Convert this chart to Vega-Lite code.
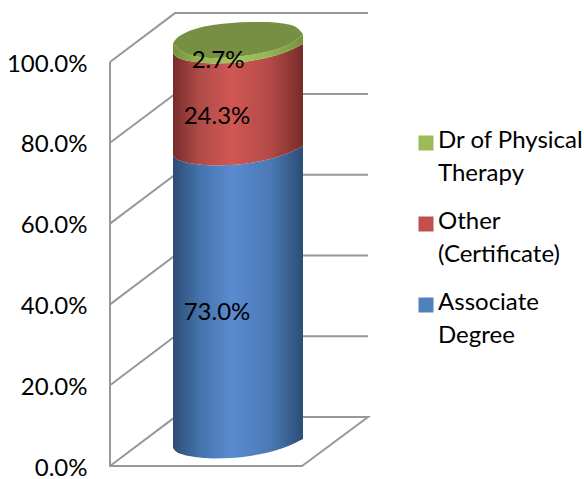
{"$schema":"https://vega.github.io/schema/vega-lite/v6.json","width":258,"height":453,"autosize":{"type":"none"},"padding":{"left":110,"top":13,"right":216,"bottom":13},"background":"white","config":{"view":{"stroke":null},"font":"Lato"},
"datasets":{
"frame":[
{"line":"f","x":110,"y":100},{"line":"f","x":110,"y":0},{"line":"f","x":302,"y":0},{"line":"f","x":368,"y":12.1},{"line":"f","x":175,"y":12.1},{"line":"f","x":110,"y":0},
{"line":"20","x":110,"y":20},{"line":"20","x":175,"y":32.1},{"line":"20","x":368,"y":32.1},
{"line":"40","x":110,"y":40},{"line":"40","x":175,"y":52.1},{"line":"40","x":368,"y":52.1},
{"line":"60","x":110,"y":60},{"line":"60","x":175,"y":72.1},{"line":"60","x":368,"y":72.1},
{"line":"80","x":110,"y":80},{"line":"80","x":175,"y":92.1},{"line":"80","x":368,"y":92.1},
{"line":"100","x":110,"y":100},{"line":"100","x":175,"y":112.1},{"line":"100","x":368,"y":112.1}],
"shares":[
{"degree":"Dr of Physical Therapy","share":0.027,"lx":218,"ly":100.5},
{"degree":"Other (Certificate)","share":0.243,"lx":217,"ly":86.6},
{"degree":"Associate Degree","share":0.73,"lx":217,"ly":38.1}],
"blue":[{"x":173,"a":4.46,"b":76.98},{"x":176,"a":3.59,"b":76.11},{"x":183,"a":2.85,"b":75.37},{"x":195,"a":2.23,"b":74.75},{"x":213,"a":1.86,"b":74.38},{"x":232,"a":1.98,"b":74.5},{"x":250,"a":2.48,"b":75.0},{"x":268,"a":3.34,"b":75.87},{"x":283,"a":4.46,"b":76.98},{"x":295,"a":5.69,"b":78.22},{"x":303,"a":6.68,"b":79.21}],
"red":[{"x":173,"a":76.98,"b":102.23},{"x":176,"a":76.11,"b":101.36},{"x":183,"a":75.37,"b":100.62},{"x":195,"a":74.75,"b":100},{"x":213,"a":74.38,"b":99.63},{"x":232,"a":74.5,"b":99.75},{"x":250,"a":75.0,"b":100.25},{"x":268,"a":75.87,"b":101.11},{"x":283,"a":76.98,"b":102.23},{"x":295,"a":78.22,"b":103.47},{"x":303,"a":79.21,"b":104.46}],
"green":[{"x":173,"a":102.23,"b":104.7},{"x":176,"a":101.36,"b":103.71},{"x":183,"a":100.62,"b":102.48},{"x":195,"a":100,"b":101.49},{"x":213,"a":99.63,"b":100.99},{"x":232,"a":99.75,"b":101.24},{"x":250,"a":100.25,"b":101.73},{"x":268,"a":101.11,"b":102.6},{"x":283,"a":102.23,"b":103.71},{"x":295,"a":103.47,"b":105.2},{"x":303,"a":104.46,"b":106.93}],
"cap":[{"x":173,"a":104.7,"b":104.7},{"x":176,"a":103.71,"b":105.69},{"x":183,"a":102.48,"b":106.93},{"x":195,"a":101.49,"b":108.17},{"x":213,"a":100.99,"b":109.16},{"x":232,"a":101.24,"b":109.65},{"x":250,"a":101.73,"b":109.9},{"x":268,"a":102.6,"b":109.9},{"x":283,"a":103.71,"b":109.53},{"x":295,"a":105.2,"b":108.79},{"x":303,"a":106.93,"b":106.93}]
},
"layer":[
{"data":{"name":"frame"},"mark":{"type":"line","color":"#989898","strokeWidth":2,"strokeJoin":"miter"},
"encoding":{"x":{"field":"x","type":"quantitative","scale":{"domain":[110,368],"nice":false,"zero":false},"axis":null},
"y":{"field":"y","type":"quantitative","scale":{"domain":[0,112.13],"nice":false,"zero":false},"axis":{"values":[0,20,40,60,80,100],"labelExpr":"format(datum.value/100,'.1%')","title":null,"domain":false,"ticks":false,"grid":false,"labelFontSize":24,"labelColor":"#000000","labelFont":"Lato","labelPadding":23,"labelOffset":2}},
"detail":{"field":"line"},"order":{"field":"none"}}},
{"data":{"name":"blue"},"mark":{"type":"area","interpolate":"monotone","color":{"x1":0,"x2":1,"y1":0,"y2":0,"gradient":"linear","stops":[{"offset":0,"color":"#2c4d75"},{"offset":0.2,"color":"#4472ab"},{"offset":0.45,"color":"#5a8bd0"},{"offset":0.75,"color":"#4a79b5"},{"offset":1,"color":"#2c4d75"}]}},"encoding":{"x":{"field":"x","type":"quantitative"},"y":{"field":"a","type":"quantitative"},"y2":{"field":"b"}}},
{"data":{"name":"red"},"mark":{"type":"area","interpolate":"monotone","color":{"x1":0,"x2":1,"y1":0,"y2":0,"gradient":"linear","stops":[{"offset":0,"color":"#772c2a"},{"offset":0.2,"color":"#b04b48"},{"offset":0.45,"color":"#d05753"},{"offset":0.75,"color":"#b24a47"},{"offset":1,"color":"#772c2a"}]}},"encoding":{"x":{"field":"x","type":"quantitative"},"y":{"field":"a","type":"quantitative"},"y2":{"field":"b"}}},
{"data":{"name":"green"},"mark":{"type":"area","interpolate":"monotone","color":{"x1":0,"x2":1,"y1":0,"y2":0,"gradient":"linear","stops":[{"offset":0,"color":"#76923c"},{"offset":0.2,"color":"#93b350"},{"offset":0.45,"color":"#a4c85c"},{"offset":0.75,"color":"#93b350"},{"offset":1,"color":"#76923c"}]}},"encoding":{"x":{"field":"x","type":"quantitative"},"y":{"field":"a","type":"quantitative"},"y2":{"field":"b"}}},
{"data":{"name":"cap"},"mark":{"type":"area","interpolate":"monotone","color":"#768f42"},"encoding":{"x":{"field":"x","type":"quantitative"},"y":{"field":"a","type":"quantitative"},"y2":{"field":"b"}}},
{"data":{"name":"shares"},"mark":{"type":"point","filled":true,"shape":"square","size":0,"opacity":1},"encoding":{"x":{"field":"lx","type":"quantitative"},"y":{"field":"ly","type":"quantitative"},
"color":{"field":"degree","type":"nominal","sort":["Dr of Physical Therapy","Other (Certificate)","Associate Degree"],"scale":{"domain":["Dr of Physical Therapy","Other (Certificate)","Associate Degree"],"range":["#9bbb59","#c0504d","#4f81bd"]},
"legend":{"orient":"none","legendX":304,"legendY":118,"title":null,"symbolType":"square","symbolSize":225,"symbolStrokeWidth":0,"labelFontSize":24,"labelColor":"#000000","labelFont":"Lato","labelLimit":300,"labelOffset":0,"labelBaseline":"alphabetic","rowPadding":24,"encoding":{"labels":{"lineHeight":{"value":33},"dy":{"value":5}}},
"labelExpr":"datum.label=='Dr of Physical Therapy'?['Dr of Physical','Therapy']:datum.label=='Other (Certificate)'?['Other','(Certificate)']:['Associate','Degree']"}}}},
{"data":{"name":"shares"},"mark":{"type":"text","fontSize":24,"font":"Lato","color":"#000000","baseline":"middle","dy":1},"encoding":{"x":{"field":"lx","type":"quantitative"},"y":{"field":"ly","type":"quantitative"},"text":{"field":"share","type":"quantitative","format":".1%"}}}
]}
